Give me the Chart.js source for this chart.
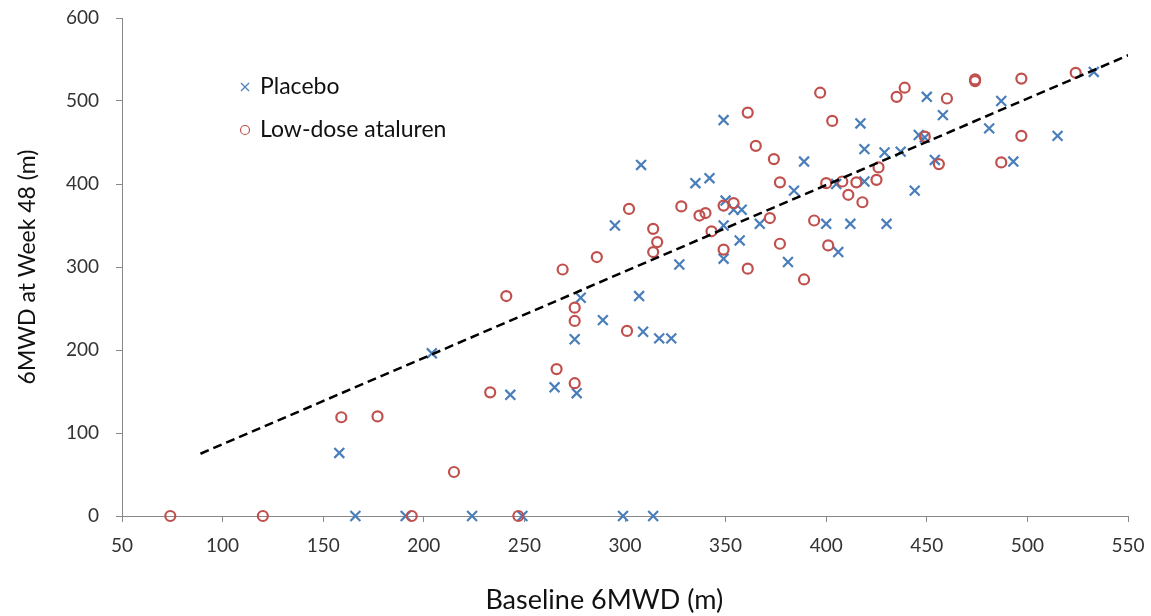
<!DOCTYPE html>
<html>
<head>
<meta charset="utf-8">
<script src="https://cdn.jsdelivr.net/npm/chart.js@4.4.0/dist/chart.umd.min.js"></script>
<style>
  html, body { margin: 0; padding: 0; background: #fff; }
  #wrap { width: 1151px; height: 616px; }
</style>
</head>
<body>
<div id="wrap"><canvas id="chart" width="1151" height="616"></canvas></div>
<script>
// Placebo: baseline 6MWD vs 6MWD at week 48
const placeboX = [158, 166, 191, 224, 249, 299, 314,
  204, 243, 265, 276, 275, 289, 309, 317, 323, 278, 307, 327, 295, 308,
  335, 342, 349, 350, 354, 358, 349, 357, 349, 367, 381, 384, 389, 400,
  405, 406, 412, 417, 419, 419, 430, 429, 437, 444, 446, 449, 450, 454,
  458, 481, 487, 493, 515, 533];
const placeboY = [76, 0, 0, 0, 0, 0, 0,
  196, 146, 155, 148, 213, 236, 222, 214, 214, 263, 265, 303, 350, 423,
  401, 407, 477, 380, 369, 369, 350, 332, 310, 352, 306, 392, 427, 352,
  400, 318, 352, 473, 442, 403, 352, 438, 439, 392, 459, 456, 505, 429,
  483, 467, 500, 427, 458, 535];

// Low-dose ataluren
const lowDoseX = [74, 120, 194, 247, 159, 177, 215, 233, 266, 275, 275, 275,
  241, 269, 286, 301, 302, 314, 316, 314, 328, 337, 340, 343, 349, 354,
  349, 361, 361, 365, 374, 377, 372, 377, 389, 394, 397, 400, 401, 403,
  408, 411, 415, 418, 425, 426, 435, 439, 449, 456, 460, 474, 474, 487,
  497, 497, 524];
const lowDoseY = [0, 0, 0, 0, 119, 120, 53, 149, 177, 160, 235, 251,
  265, 297, 312, 223, 370, 346, 330, 318, 373, 362, 365, 343, 374, 377,
  321, 298, 486, 446, 430, 402, 359, 328, 285, 356, 510, 401, 326, 476,
  403, 387, 402, 378, 405, 420, 505, 516, 457, 424, 503, 524, 526, 426,
  458, 527, 534];

// dashed trend line, read at its two ends
const trendX = [89, 551];
const trendY = [75, 556];

const toPoints = (xs, ys) => xs.map((x, i) => ({ x: x, y: ys[i] }));

const axisColor = "#888888";
const textColor = "#333333";
const fontFamily = "Lato, 'Open Sans', sans-serif";

// legend drawn inside the plot, top left
const legendInside = {
  id: "legendInside",
  afterDraw(chart, args, opts) {
    const { ctx, chartArea } = chart;
    ctx.save();
    ctx.font = opts.size + "px " + fontFamily;
    ctx.textBaseline = "middle";
    ctx.fillStyle = "#111";
    let row = 0;
    chart.data.datasets.forEach((ds) => {
      if (!ds.inLegend) return;
      const cx = chartArea.left + opts.x;
      const cy = chartArea.top + opts.y + row * opts.rowGap;
      ctx.strokeStyle = ds.borderColor;
      ctx.lineWidth = 1.2;
      ctx.beginPath();
      if (ds.pointStyle === "crossRot") {
        ctx.moveTo(cx - 4, cy - 4);
        ctx.lineTo(cx + 4, cy + 4);
        ctx.moveTo(cx + 4, cy - 4);
        ctx.lineTo(cx - 4, cy + 4);
      } else {
        ctx.arc(cx, cy, 4.5, 0, Math.PI * 2);
      }
      ctx.stroke();
      ctx.fillText(ds.label, cx + 15, cy);
      row++;
    });
    ctx.restore();
  },
};

new Chart(document.getElementById("chart"), {
  type: "scatter",
  data: {
    datasets: [
      {
        label: "Placebo",
        data: toPoints(placeboX, placeboY),
        pointStyle: "crossRot",
        pointRadius: 7,
        pointBorderWidth: 2.2,
        borderColor: "#4A7EBB",
        backgroundColor: "#4A7EBB",
        clip: false,
        inLegend: true,
        order: 2,
      },
      {
        label: "Low-dose ataluren",
        data: toPoints(lowDoseX, lowDoseY),
        pointStyle: "circle",
        pointRadius: 5,
        pointBorderWidth: 2.2,
        borderColor: "#C0504D",
        backgroundColor: "rgba(0,0,0,0)",
        clip: false,
        inLegend: true,
        order: 1,
      },
      {
        label: "Trend",
        data: toPoints(trendX, trendY),
        showLine: true,
        borderColor: "#000",
        borderWidth: 2.5,
        borderDash: [9, 5],
        pointRadius: 0,
        fill: false,
        order: 0,
      },
    ],
  },
  options: {
    responsive: false,
    animation: false,
    devicePixelRatio: 1,
    layout: { padding: { left: 0, right: 23, top: 18, bottom: 0 } },
    plugins: {
      legend: { display: false },
      tooltip: { enabled: false },
      legendInside: { x: 123, y: 69, rowGap: 43, size: 23 },
    },
    scales: {
      x: {
        type: "linear",
        min: 50,
        max: 550,
        ticks: {
          stepSize: 50,
          color: textColor,
          font: { family: fontFamily, size: 19 },
          padding: 12,
        },
        grid: {
          drawOnChartArea: false,
          drawTicks: true,
          tickLength: 6,
          tickColor: axisColor,
        },
        border: { color: axisColor, width: 1 },
        title: {
          display: true,
          // trailing spaces nudge the centred title a little to the left, as in the original
          text: "Baseline 6MWD (m)      ",
          color: "#111",
          font: { family: fontFamily, size: 27 },
          padding: { top: 0, bottom: 0 },
        },
        afterFit: (s) => {
          s.height = 100;
          s.paddingLeft = 0;
          s.paddingRight = 0;
        },
      },
      y: {
        type: "linear",
        min: 0,
        max: 600,
        ticks: {
          stepSize: 100,
          color: textColor,
          font: { family: fontFamily, size: 19 },
          padding: 17,
        },
        grid: {
          drawOnChartArea: false,
          drawTicks: true,
          tickLength: 6,
          tickColor: axisColor,
        },
        border: { color: axisColor, width: 1 },
        title: {
          display: true,
          text: "6MWD at Week 48 (m)",
          color: "#111",
          font: { family: fontFamily, size: 23 },
          padding: { top: 14, bottom: 0 },
        },
        afterFit: (s) => {
          s.width = 122;
          s.paddingTop = 0;
          s.paddingBottom = 0;
        },
      },
    },
  },
  plugins: [legendInside],
});
</script>
</body>
</html>
